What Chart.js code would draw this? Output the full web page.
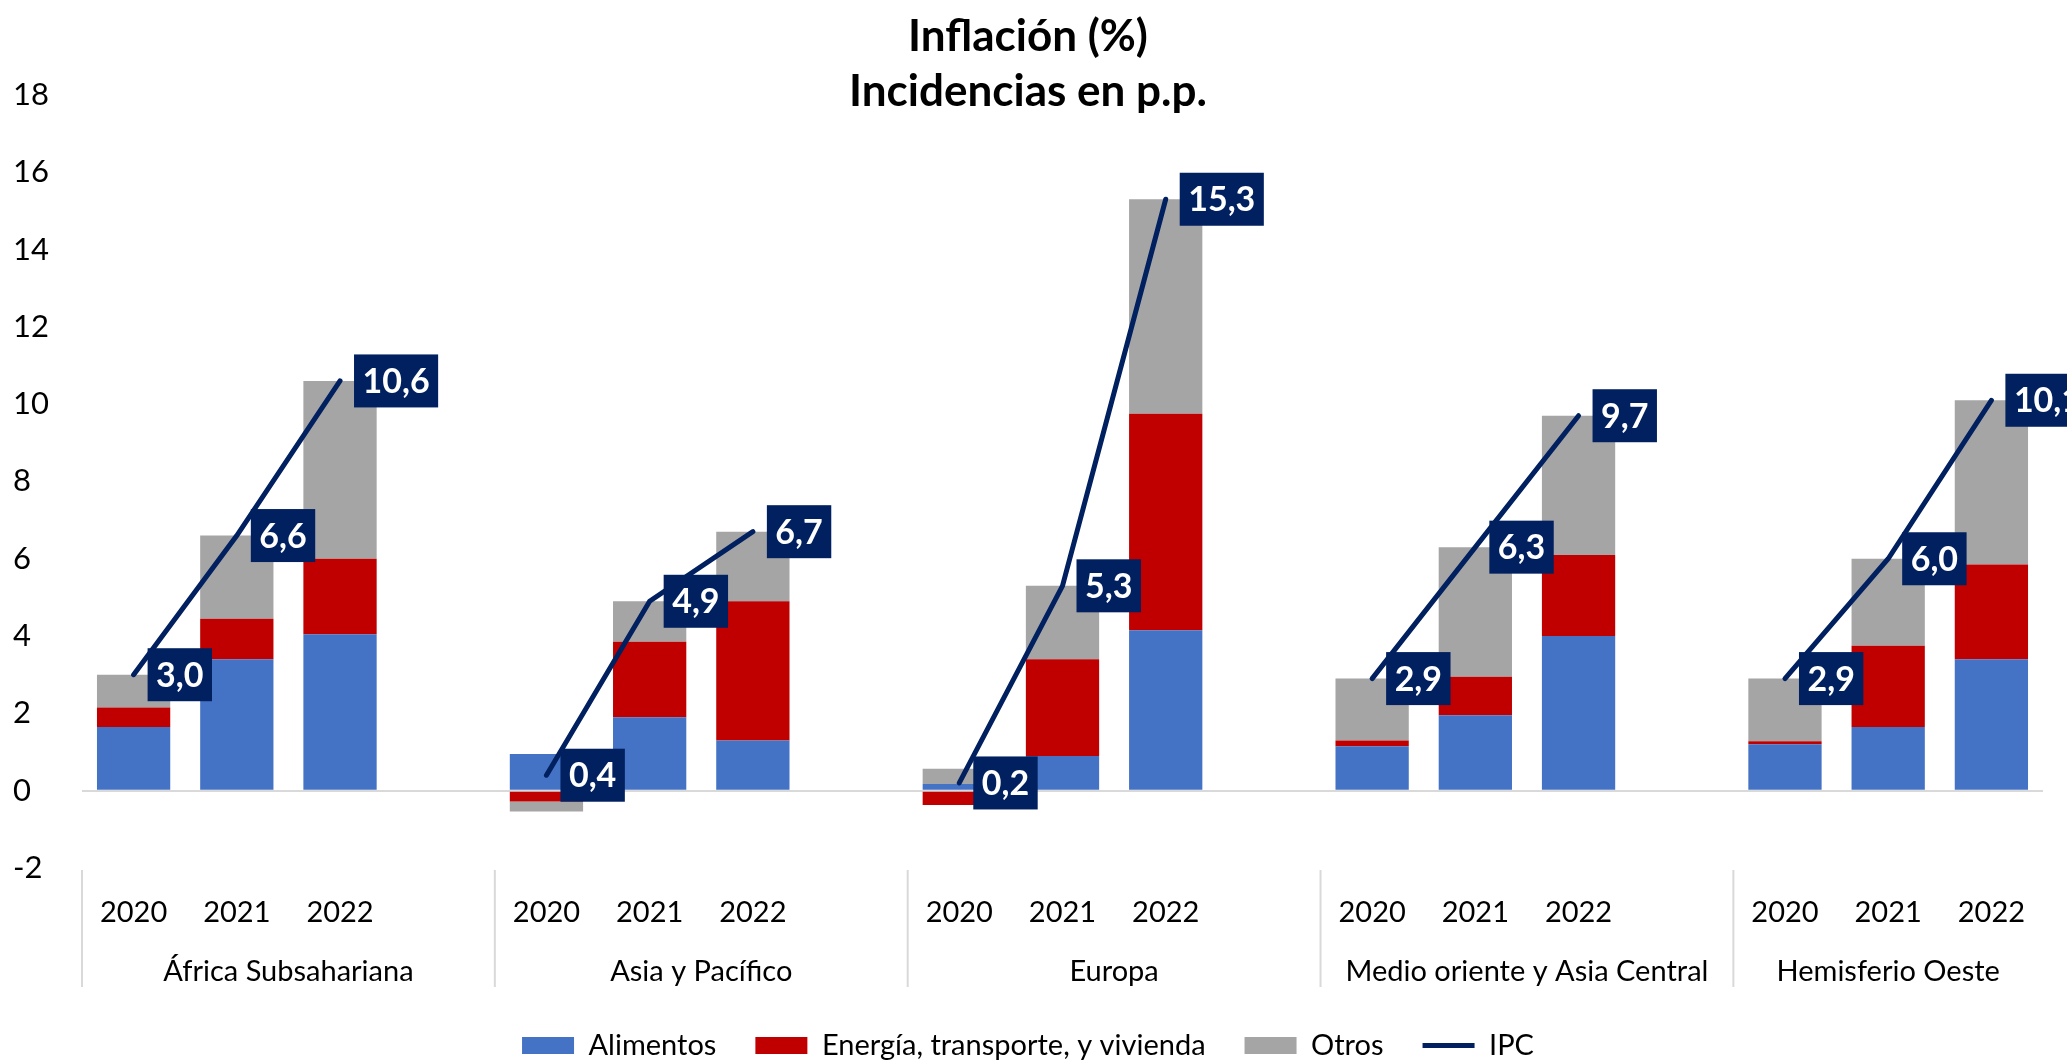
<!DOCTYPE html>
<html>
<head>
<meta charset="utf-8">
<script src="https://cdn.jsdelivr.net/npm/chart.js@4.4.1/dist/chart.umd.min.js"></script>
<style>
  html, body { margin: 0; padding: 0; background: #fff; }
</style>
</head>
<body>
<canvas id="chart" width="2067" height="1062"></canvas>
<script>
// categories
const regions = ['África Subsahariana', 'Asia y Pacífico', 'Europa', 'Medio oriente y Asia Central', 'Hemisferio Oeste'];
const years = ['2020', '2021', '2022'];

// values per region, 2020 / 2021 / 2022 (p.p.)
const alimentos = [1.65, 3.4, 4.05,  0.95, 1.9, 1.3,  0.17, 0.9, 4.15,  1.15, 1.95, 4.0,  1.2, 1.65, 3.4];
const energia   = [0.5, 1.05, 1.95,  -0.28, 1.95, 3.6,  -0.37, 2.5, 5.6,  0.15, 1.0, 2.1,  0.08, 2.1, 2.45];
const otros     = [0.85, 2.15, 4.6,  -0.26, 1.05, 1.8,  0.4, 1.9, 5.55,  1.6, 3.35, 3.6,  1.62, 2.25, 4.25];
const ipc       = [3.0, 6.6, 10.6,  0.4, 4.9, 6.7,  0.2, 5.3, 15.3,  2.9, 6.3, 9.7,  2.9, 6.0, 10.1];

const yTicks = [-2, 0, 2, 4, 6, 8, 10, 12, 14, 16, 18];

// build slots: three years per region, an empty slot between regions
const labels = [];
const slotIndex = [];
regions.forEach((r, ri) => {
  years.forEach((y, yi) => { slotIndex.push(labels.length); labels.push(y); });
  if (ri < regions.length - 1) labels.push('');
});
function toSlots(arr) {
  const out = labels.map(() => null);
  arr.forEach((v, i) => { out[slotIndex[i]] = v; });
  return out;
}
const ipcSlots = toSlots(ipc);

const NAVY = '#002060';

const ipcLabels = {
  id: 'ipcLabels',
  afterDatasetsDraw(chart) {
    const meta = chart.getDatasetMeta(3);
    const ctx = chart.ctx;
    ctx.save();
    ctx.font = 'bold 34px Lato';
    ctx.textBaseline = 'middle';
    ctx.textAlign = 'left';
    meta.data.forEach((pt, i) => {
      const v = ipcSlots[i];
      if (v == null) return;
      const txt = v.toFixed(1).replace('.', ',');
      const w = ctx.measureText(txt).width + 17;
      const h = 53;
      const x0 = pt.x + 14;
      ctx.fillStyle = NAVY;
      ctx.fillRect(x0, pt.y - h / 2, w, h);
      ctx.fillStyle = '#fff';
      ctx.fillText(txt, x0 + 8.5, pt.y + 1);
    });
    ctx.restore();
  }
};

// region names and separators under the year labels
const groupAxis = {
  id: 'groupAxis',
  afterDraw(chart) {
    const x = chart.scales.x, ctx = chart.ctx;
    const base = chart.chartArea.bottom;
    const step = x.getPixelForValue(1) - x.getPixelForValue(0);
    ctx.save();
    ctx.strokeStyle = '#d9d9d9';
    ctx.lineWidth = 2;
    ctx.font = '29px Lato';
    ctx.fillStyle = '#000';
    ctx.textAlign = 'center';
    ctx.textBaseline = 'middle';
    let idx = 0;
    regions.forEach((name, r) => {
      const n = r < regions.length - 1 ? 4 : 3;
      const left = x.getPixelForValue(idx) - step / 2;
      const right = left + n * step;
      ctx.beginPath();
      ctx.moveTo(left, base + 2);
      ctx.lineTo(left, base + 119);
      ctx.stroke();
      ctx.fillText(name, (left + right) / 2, base + 104);
      idx += n;
    });
    ctx.restore();
  }
};

Chart.defaults.font.family = 'Lato';
Chart.defaults.color = '#000';

new Chart(document.getElementById('chart'), {
  data: {
    labels: labels,
    datasets: [
      { type: 'bar', label: 'Alimentos', data: toSlots(alimentos), backgroundColor: '#4472C4', pointStyle: 'rect' },
      { type: 'bar', label: 'Energía, transporte, y vivienda', data: toSlots(energia), backgroundColor: '#C00000', pointStyle: 'rect' },
      { type: 'bar', label: 'Otros', data: toSlots(otros), backgroundColor: '#A5A5A5', pointStyle: 'rect' },
      { type: 'line', label: 'IPC', data: ipcSlots, borderColor: NAVY, backgroundColor: NAVY, borderWidth: 5,
        pointRadius: 0, pointStyle: 'line', spanGaps: false, tension: 0, borderCapStyle: 'round',
        fill: false, stack: 'ipc', order: -1 }
    ]
  },
  options: {
    responsive: false,
    animation: false,
    events: [],
    layout: { padding: { left: 13, right: 24, top: 0, bottom: -8 } },
    datasets: { bar: { categoryPercentage: 1, barPercentage: 0.71 } },
    scales: {
      x: {
        stacked: true,
        grid: { display: false, drawTicks: false },
        border: { display: false },
        ticks: { autoSkip: false, maxRotation: 0, padding: 27, font: { size: 29 } },
        afterFit: s => { s.height = 124; }
      },
      y: {
        stacked: true,
        min: -2,
        max: 18,
        afterBuildTicks: s => { s.ticks = yTicks.map(v => ({ value: v })); },
        grid: {
          drawTicks: false,
          lineWidth: 2,
          color: c => (c.tick && c.tick.value === 0 ? '#d9d9d9' : 'rgba(0,0,0,0)')
        },
        border: { display: false },
        ticks: { crossAlign: 'far', font: { size: 31 } },
        afterFit: s => { s.width = 69; }
      }
    },
    plugins: {
      title: {
        display: true,
        text: ['Inflación (%)', 'Incidencias en p.p.'],
        font: { size: 44, weight: 'bold', lineHeight: 1.26 },
        color: '#000',
        padding: { top: 9, bottom: -25 }
      },
      legend: {
        position: 'bottom',
        labels: {
          usePointStyle: true, pointStyleWidth: 52, boxHeight: 17, padding: 39,
          font: { size: 29 }, color: '#000',
          sort: (a, b) => a.datasetIndex - b.datasetIndex
        }
      },
      tooltip: { enabled: false }
    }
  },
  plugins: [ipcLabels, groupAxis]
});
</script>
</body>
</html>
